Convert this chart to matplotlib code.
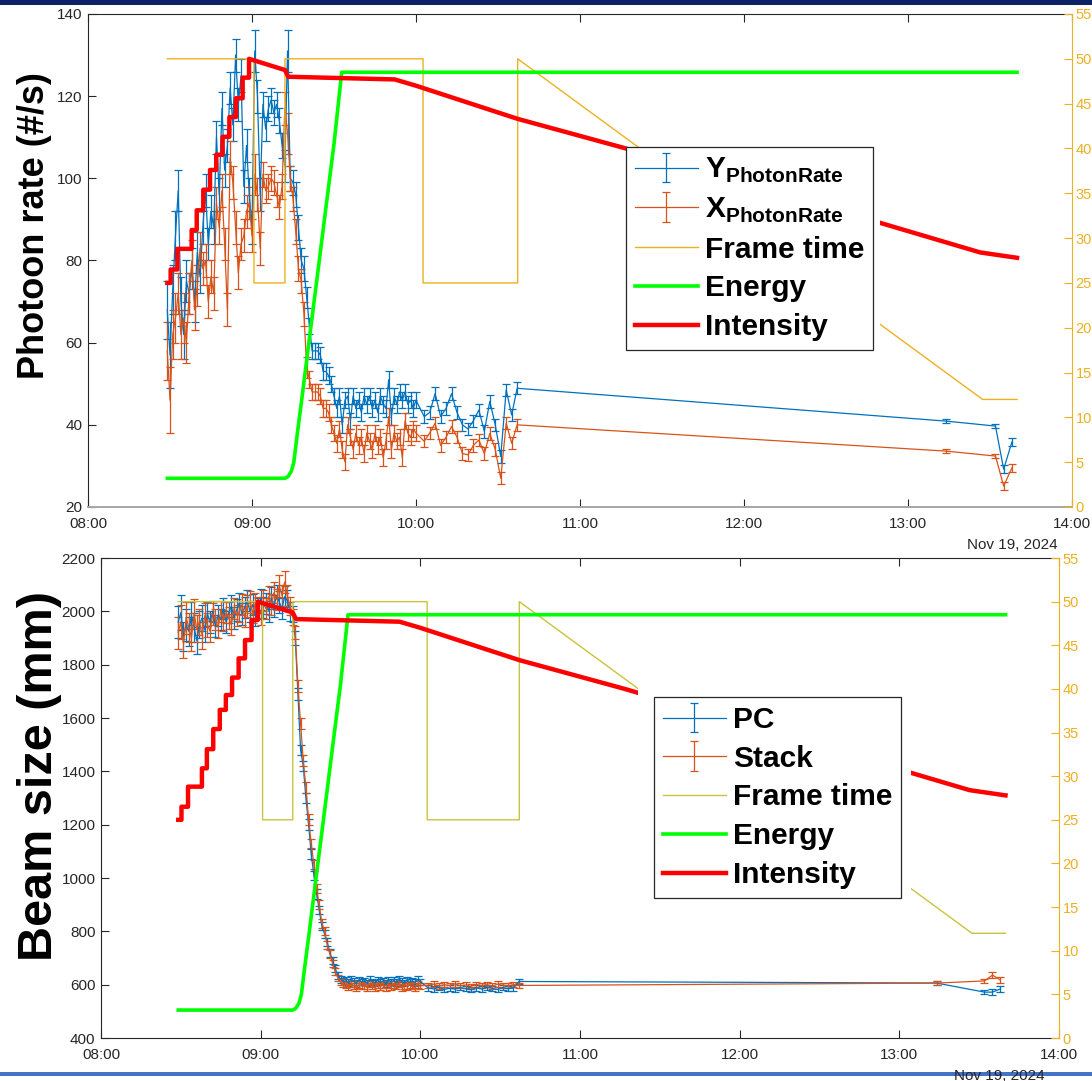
"""Photon rate and beam size vs. time with frame time / energy / intensity overlay."""

import matplotlib

matplotlib.use("Agg")

import matplotlib.pyplot as plt
from matplotlib.patches import Rectangle

plt.rcParams["font.family"] = ["Liberation Sans", "DejaVu Sans"]
plt.rcParams["mathtext.fontset"] = "custom"
plt.rcParams["mathtext.bf"] = "Liberation Sans:bold"
plt.rcParams["mathtext.rm"] = "Liberation Sans"

W, H = 1092, 1081

BLUE = "#0072BD"
ORANGE = "#D95319"
GOLD = "#EDB120"
OLIVE = "#C9C43A"
TEXT = "#262626"

# sample times, minutes after 08:00
t_min = (
    list(range(29, 121))
    + [123, 125, 127, 129, 131, 133, 135, 137, 139, 141, 143, 145, 147, 149, 151, 153, 155, 157]
    + [314, 332, 335, 338]
)

# photon rate (#/s)
y_rate = [
    68, 57, 73, 86, 97, 70, 62, 75, 72, 78,
    70, 82, 76, 88, 97, 84, 92, 88, 110, 96,
    117, 102, 108, 122, 113, 130, 118, 125, 98, 108,
    96, 88, 131, 120, 96, 118, 112, 117, 119, 116,
    118, 114, 108, 103, 131, 100, 99, 96, 88, 80,
    78, 71, 64, 58, 58, 58, 57, 53, 53, 52,
    50, 47, 44, 47, 40, 46, 47, 41, 47, 44,
    46, 43, 47, 45, 47, 44, 46, 43, 47, 45,
    44, 51, 42, 47, 45, 48, 46, 48, 45, 46,
    44, 46,
    42, 43, 47.6, 42, 44, 47.6, 43, 40, 39, 41, 43.6, 38.4, 45.7, 40, 32.3, 48.5, 42.4, 48.9,
    40.9, 39.7, 29.2, 35.8,
]
x_rate = [
    58, 46, 62, 66, 72, 62, 66, 60, 72, 80,
    68, 74, 83, 78, 80, 70, 76, 72, 94, 88,
    97, 84, 68, 105, 99, 88, 77, 84, 86, 92,
    94, 86, 101, 96, 83, 101, 97, 98, 100, 99,
    96, 93, 98, 117, 111, 100, 95, 87, 78, 75,
    67, 54, 51, 48, 48, 48, 47, 44, 44, 43,
    40, 38, 35.5, 39, 34, 31, 40, 37, 34, 38,
    35, 37, 33, 38, 36, 34, 38, 35, 37, 32,
    36, 42, 34, 38, 36, 37, 32, 41, 38, 37,
    39, 38,
    36, 38, 40.4, 35, 37, 39.6, 37, 33, 32.7, 35, 36.3, 33, 37.9, 34, 27, 40.4, 35.5, 40,
    33.6, 32.4, 25.1, 29.5,
]
rate_err = [
    7, 8, 6, 6, 5, 6, 6, 5, 5, 5,
    5, 5, 4, 4, 4, 4, 4, 4, 4, 4,
    4, 4, 4, 4, 4, 4, 4, 4, 4, 4,
    4, 4, 5, 4, 4, 3, 3, 3, 3, 3,
    3, 3, 3, 4, 5, 3, 3, 3, 3, 3,
    3, 2.5, 2, 2, 2, 2, 2, 2, 2, 2,
    2, 2, 2, 2, 2, 2, 2, 2, 2, 2,
    2, 2, 2, 2, 2, 2, 2, 2, 2, 2,
    2, 2, 2, 2, 2, 2, 2, 2, 2, 2,
    2, 2,
    1.5, 1.5, 1.5, 1.5, 1.5, 1.5, 1.5, 1.5, 1.5, 1.5, 1.5, 1.5, 1.5, 1.5, 1.5, 1.5, 1.5, 1.5,
    0.5, 0.5, 1, 1,
]

# beam size (mm)
pc_size = [
    1960, 1995, 1905, 1950, 1925, 1985, 1940, 1890, 1950, 1975,
    1930, 1990, 1960, 2000, 1945, 1985, 1970, 2010, 1960, 1995,
    2020, 1975, 2005, 2030, 1990, 2015, 2040, 2000, 2025, 1985,
    2010, 2045, 2015, 2030, 2000, 2050, 2020, 2060, 2035, 2010,
    2055, 2040, 2000, 1990,
    1900, 1690, 1480, 1420, 1300, 1200, 1090, 1010, 940, 880,
    820, 790, 760, 720, 690, 660, 635, 620, 612,
    615, 608, 620, 612, 605, 618, 610, 614, 606, 620,
    611, 607, 616, 609, 613, 604, 618, 610, 615, 608,
    621, 612, 606, 617, 610, 614, 608, 619, 611,
    588, 584, 590, 582, 587, 583, 589, 585, 581, 588, 584, 590, 586, 582, 589, 585, 587, 612,
    606, 572, 572, 584,
]
stack_size = [
    1920, 1960, 1880, 1975, 1940, 1900, 1990, 1935, 1960, 1910,
    1985, 1950, 1925, 1990, 1970, 1940, 2000, 1965, 1995, 1975,
    1950, 2010, 1985, 2000, 2025, 1980, 2020, 2035, 1995, 2030,
    2015, 1990, 2040, 2010, 2055, 2025, 2070, 2045, 2095, 2060,
    2110, 2060, 2020, 1980,
    1920, 1720, 1580, 1440, 1340, 1220, 1130, 1050, 960, 900,
    830, 800, 750, 715, 680, 650, 625, 610, 602,
    598, 592, 603, 595, 588, 600, 594, 597, 590, 602,
    596, 589, 599, 593, 601, 587, 598, 592, 600, 595,
    603, 590, 597, 593, 599, 594, 588, 601, 596,
    598, 602, 595, 600, 597, 603, 596, 599, 594, 601, 597, 600, 595, 602, 598, 596, 600, 597,
    606, 614, 636, 617,
]
size_err = [
    60, 65, 55, 60, 55, 50, 55, 50, 50, 50,
    45, 45, 40, 40, 40, 40, 40, 40, 40, 40,
    40, 40, 40, 40, 40, 40, 40, 40, 40, 40,
    40, 40, 40, 40, 40, 40, 40, 40, 40, 40,
    40, 40, 35, 30,
    25, 22, 20, 20, 20, 20, 18, 18, 18, 16,
    16, 15, 15, 15, 14, 14, 13, 13, 12,
    12, 12, 12, 12, 12, 12, 12, 12, 12, 12,
    12, 12, 12, 12, 12, 12, 12, 12, 12, 12,
    12, 12, 12, 12, 12, 12, 12, 12, 12,
    10, 10, 10, 10, 10, 10, 10, 10, 10, 10, 10, 10, 10, 10, 10, 10, 10, 10,
    6, 8, 12, 10,
]

# right axis traces (hours, value)
frame_t = [8.484, 9.012, 9.012, 9.201, 9.201, 10.043, 10.043, 10.62, 10.62, 13.455, 13.665]
frame_v = [50, 50, 25, 25, 50, 50, 25, 25, 50, 12, 12]

energy_t = [8.484, 9.20, 9.22, 9.24, 9.255, 9.275, 9.30, 9.35, 9.40, 9.45, 9.50, 9.547, 13.665]
energy_v = [3.2, 3.2, 3.4, 4.0, 5.0, 8.0, 11.5, 18.8, 26.0, 33.3, 40.5, 48.5, 48.5]

intensity_t = [
    8.484, 8.504, 8.504, 8.545, 8.545, 8.632, 8.632, 8.663, 8.663, 8.703, 8.703,
    8.744, 8.744, 8.782, 8.782, 8.821, 8.821, 8.862, 8.862, 8.902, 8.902, 8.943,
    8.943, 8.982, 8.982, 9.201, 9.221, 9.87, 10.0, 10.62, 11.28, 12.83, 13.44, 13.665,
]
intensity_v = [
    25, 25, 26.5, 26.5, 28.8, 28.8, 30.9, 30.9, 33.1, 33.1, 35.4,
    35.4, 37.6, 37.6, 39.3, 39.3, 41.3, 41.3, 43.5, 43.5, 45.6, 45.6,
    47.9, 47.9, 50.0, 48.75, 48.0, 47.7, 47.0, 43.3, 40.0, 31.7, 28.4, 27.8,
]

hours = list(range(8, 15))
hour_labels = [f"{h:02d}:00" for h in hours]


def fig_rect(x0, y0, x1, y1):
    return [x0 / W, 1 - y1 / H, (x1 - x0) / W, (y1 - y0) / H]


def draw_panel(fig, box, y1, y2, err, names, ylim, yticks, frame_color,
               legend_xy, mask, bottom_spine):
    t = [8 + m / 60 for m in t_min]
    ax = fig.add_axes(fig_rect(*box))
    style = dict(lw=0.9, elinewidth=0.9, capsize=3.2, capthick=0.9)
    h1 = ax.errorbar(t, y1, yerr=err, color=BLUE, **style)
    h2 = ax.errorbar(t, y2, yerr=err, color=ORANGE, **style)

    ax.set_xlim(8, 14)
    ax.set_xticks(hours)
    ax.set_xticklabels(hour_labels)
    ax.set_ylim(*ylim)
    ax.set_yticks(yticks)
    ax.tick_params(direction="in", length=6, top=True, labelsize=11,
                   colors=TEXT, width=0.8)
    ax.tick_params(axis="x", pad=7)
    ax.tick_params(axis="y", pad=4)
    for side in ("left", "top"):
        ax.spines[side].set_color(TEXT)
    ax.spines["bottom"].set_color(bottom_spine)
    ax.spines["bottom"].set_linewidth(1.4 if bottom_spine != TEXT else 0.8)
    ax.spines["right"].set_visible(False)

    ax2 = ax.twinx()
    l_frame, = ax2.plot(frame_t, frame_v, color=frame_color, lw=1.0)
    l_energy, = ax2.plot(energy_t, energy_v, color="#00FF00", lw=2.6)
    l_int, = ax2.plot(intensity_t, intensity_v, color="#FF0000", lw=3.2)
    ax2.set_ylim(0, 55)
    ax2.set_yticks(range(0, 56, 5))
    ax2.tick_params(axis="y", direction="in", length=6, colors=GOLD,
                    labelsize=10.5, pad=2.5)
    for side in ("left", "top", "bottom"):
        ax2.spines[side].set_visible(False)
    ax2.spines["right"].set_color(GOLD)

    fig.add_artist(Rectangle((mask[0] / W, 1 - mask[3] / H),
                             (mask[2] - mask[0]) / W, (mask[3] - mask[1]) / H,
                             transform=fig.transFigure, facecolor="white",
                             edgecolor="none", zorder=1))

    leg = fig.legend(
        [h1, h2, l_frame, l_energy, l_int],
        names + ["Frame time", "Energy", "Intensity"],
        loc="upper left",
        bbox_to_anchor=(legend_xy[0] / W, 1 - legend_xy[1] / H),
        bbox_transform=fig.transFigure,
        borderaxespad=0,
        prop={"weight": "bold", "size": 21.5},
        frameon=True, fancybox=False, framealpha=1,
        edgecolor=TEXT, handlelength=2.1, handletextpad=0.25,
        labelspacing=0.36, borderpad=0.3,
    )
    leg.get_frame().set_linewidth(0.9)
    leg.set_zorder(5)
    return ax


fig = plt.figure(figsize=(W / 100, H / 100), dpi=100)

draw_panel(fig, (88, 14, 1072, 507), y_rate, x_rate, rate_err,
           [r"Y$_{\mathbf{PhotonRate}}$", r"X$_{\mathbf{PhotonRate}}$"],
           (20, 140), range(20, 141, 20), GOLD,
           (626, 147), (626, 147, 880, 352), "#A6A6A6")
draw_panel(fig, (101, 558, 1059, 1038), pc_size, stack_size, size_err,
           ["PC", "Stack"],
           (400, 2200), range(400, 2201, 200), OLIVE,
           (654, 697), (638, 684, 911, 905), TEXT)

fig.text(35 / W, 1 - 226 / H, "Photoon rate (#/s)", rotation=90,
         ha="center", va="center", fontsize=26, fontweight="bold")
fig.text(40 / W, 1 - 776 / H, "Beam size (mm)", rotation=90,
         ha="center", va="center", fontsize=35, fontweight="bold")

fig.text(1058 / W, 1 - 545 / H, "Nov 19, 2024", ha="right", va="center",
         fontsize=11, color=TEXT)
fig.add_artist(Rectangle((0, 1 - 5 / H), 1, 5 / H, transform=fig.transFigure,
                         facecolor="#0B2265", edgecolor="none", zorder=1))
fig.add_artist(Rectangle((0, 1 - 1076 / H), 1, 4 / H, transform=fig.transFigure,
                         facecolor="#4472C4", edgecolor="none", zorder=1))
fig.text(1045 / W, 1 - 1076 / H, "Nov 19, 2024", ha="right", va="center",
         fontsize=11, color=TEXT, zorder=3)

fig.savefig("out.png", dpi=100)
